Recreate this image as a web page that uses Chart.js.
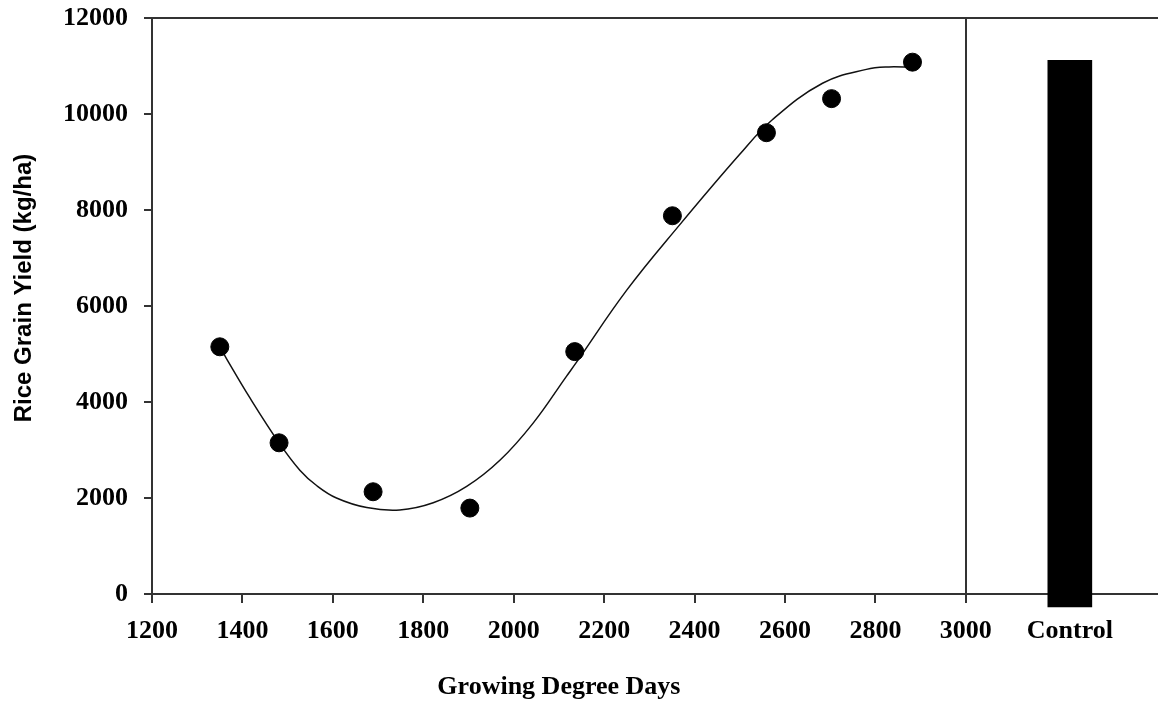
<!DOCTYPE html>
<html>
<head>
<meta charset="utf-8">
<script src="https://cdn.jsdelivr.net/npm/chart.js@4.4.1/dist/chart.umd.min.js"></script>
<style>
    html, body { margin: 0; padding: 0; background: #fff; overflow: hidden; }
    .chart-box { width: 1158px; height: 706px; position: relative; }
    canvas { display: block; }
</style>
</head>
<body>
<div class="chart-box"><canvas id="myChart"></canvas></div>
<script>
// measured points (growing degree days vs grain yield)
const gddDays = [1350, 1481, 1689, 1903, 2135, 2351, 2559, 2703, 2882];
const grainYield = [5150, 3150, 2130, 1790, 5050, 7880, 9610, 10320, 11080];

// fitted curve
const curveDays = [1350, 1365, 1417, 1481, 1527, 1564, 1608, 1675, 1748, 1822, 1896, 1970, 2043, 2117, 2139, 2250, 2367, 2499, 2572, 2683, 2780, 2830, 2882];
const curveYield = [5150, 4900, 4080, 3150, 2580, 2260, 2000, 1800, 1750, 1900, 2240, 2790, 3560, 4540, 4830, 6330, 7690, 9150, 9880, 10640, 10930, 10980, 10970];

// control bar
const controlLabel = 'Control';
const controlDay = 3230;
const controlYield = 11120;

const xTicks = [1200, 1400, 1600, 1800, 2000, 2200, 2400, 2600, 2800, 3000];
const yTicks = [0, 2000, 4000, 6000, 8000, 10000, 12000];

const xTitle = 'Growing Degree Days';
const yTitle = 'Rice Grain Yield (kg/ha)';

const lineColor = '#333';
const tickFont = { family: 'Liberation Serif', size: 26, weight: 'bold' };

function noPadding(scale) {
    scale.paddingLeft = 0;
    scale.paddingRight = 0;
    scale.paddingTop = 0;
    scale.paddingBottom = 0;
}

const titlePlugin = {
    id: 'axisTitles',
    afterDraw(chart) {
        const { ctx, chartArea } = chart;
        const x = chart.scales.x;
        ctx.save();
        ctx.fillStyle = '#000';
        ctx.textAlign = 'center';
        ctx.textBaseline = 'middle';
        ctx.font = 'bold 26px "Liberation Serif"';
        const midX = (x.getPixelForValue(xTicks[0]) + x.getPixelForValue(xTicks[xTicks.length - 1])) / 2;
        ctx.fillText(xTitle, midX, 687);

        ctx.translate(24, (chartArea.top + chartArea.bottom) / 2 - 18);
        ctx.rotate(-Math.PI / 2);
        ctx.font = 'bold 24px "Liberation Sans"';
        ctx.fillText(yTitle, 0, 0);
        ctx.restore();
    }
};

const ctx = document.getElementById('myChart').getContext('2d');
let chart = new Chart(ctx, {
    data: {
        datasets: [{
            type: 'line',
            data: curveDays.map((d, i) => ({ x: d, y: curveYield[i] })),
            borderColor: '#111',
            borderWidth: 1.5,
            pointRadius: 0,
            tension: 0.4,
            fill: false,
            order: 2
        }, {
            type: 'scatter',
            data: gddDays.map((d, i) => ({ x: d, y: grainYield[i] })),
            backgroundColor: '#000',
            borderColor: '#000',
            pointRadius: 9,
            order: 1
        }, {
            type: 'bar',
            data: [{ x: controlDay, y: controlYield }],
            backgroundColor: '#000',
            barThickness: 44,
            base: -270,
            clip: false,
            order: 3
        }]
    },
    plugins: [titlePlugin],
    options: {
        responsive: true,
        maintainAspectRatio: false,
        animation: false,
        devicePixelRatio: 1,
        layout: { padding: 0, autoPadding: false },
        plugins: {
            legend: { display: false },
            tooltip: { enabled: false }
        },
        scales: {
            x: {
                type: 'linear',
                position: 'bottom',
                min: 1200,
                max: 3425,
                offset: false,
                afterBuildTicks: scale => {
                    scale.ticks = xTicks.concat([controlDay]).map(v => ({ value: v }));
                },
                afterFit: scale => {
                    scale.height = 112;
                    noPadding(scale);
                },
                ticks: {
                    color: '#000',
                    font: tickFont,
                    padding: 13,
                    maxRotation: 0,
                    autoSkip: false,
                    callback: v => v === controlDay ? controlLabel : String(v)
                },
                grid: {
                    offset: false,
                    lineWidth: 2,
                    tickLength: 9,
                    color: c => c.tick && c.tick.value === 3000 ? lineColor : 'transparent',
                    tickColor: c => c.tick && c.tick.value <= 3000 ? lineColor : 'transparent'
                },
                border: { display: true, color: lineColor, width: 2 }
            },
            xTop: {
                type: 'linear',
                position: 'top',
                min: 1200,
                max: 3425,
                afterFit: scale => {
                    scale.height = 18;
                    noPadding(scale);
                },
                ticks: { display: false },
                grid: { display: false },
                border: { display: true, color: lineColor, width: 2 }
            },
            y: {
                type: 'linear',
                min: 0,
                max: 12000,
                afterBuildTicks: scale => {
                    scale.ticks = yTicks.map(v => ({ value: v }));
                },
                afterFit: scale => {
                    scale.width = 152;
                    noPadding(scale);
                },
                ticks: {
                    color: '#000',
                    font: tickFont,
                    padding: 16,
                    callback: v => String(v)
                },
                grid: {
                    drawOnChartArea: false,
                    lineWidth: 2,
                    tickLength: 8,
                    tickColor: lineColor
                },
                border: { display: true, color: lineColor, width: 2 }
            }
        }
    }
});
</script>
</body>
</html>
